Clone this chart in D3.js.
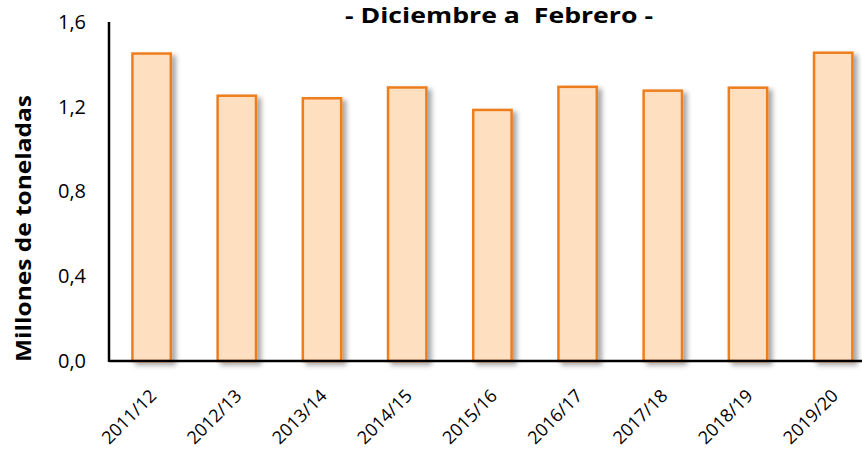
<!DOCTYPE html>
<html>
<head>
<meta charset="utf-8">
<script src="https://cdn.jsdelivr.net/npm/d3@7"></script>
<style>
  body { margin: 0; background: #fff; }
  text { font-family: "Open Sans", sans-serif; }
</style>
</head>
<body>
<div id="app"></div>
<script>
const campaigns = ["2011/12", "2012/13", "2013/14", "2014/15", "2015/16", "2016/17", "2017/18", "2018/19", "2019/20"];
const tonnes = [1.451, 1.252, 1.240, 1.291, 1.185, 1.294, 1.276, 1.290, 1.455];
const yTicks = [0, 0.4, 0.8, 1.2, 1.6];

const W = 862, H = 450;
const svg = d3.select("#app").append("svg")
    .attr("width", W)
    .attr("height", H);

// soft shadow like the spreadsheet bars
const defs = svg.append("defs");
const f = defs.append("filter").attr("id", "shadow")
    .attr("x", "-20%").attr("y", "-10%").attr("width", "150%").attr("height", "130%");
f.append("feDropShadow").attr("dx", 4).attr("dy", 3).attr("stdDeviation", 2.5)
    .attr("flood-color", "#000").attr("flood-opacity", 0.35);

const plotLeft = 109, plotTop = 22, plotBottom = 361;
const step = 85.2;

const x = d3.scaleBand()
    .domain(campaigns)
    .range([plotLeft, plotLeft + step * campaigns.length])
    .paddingInner(0.55)
    .paddingOuter(0.275);

const y = d3.scaleLinear([0, 1.6], [plotBottom, plotTop]);

// bars
svg.append("g").selectAll("rect")
    .data(campaigns)
    .join("rect")
    .attr("x", d => x(d))
    .attr("y", (d, i) => y(tonnes[i]))
    .attr("width", x.bandwidth())
    .attr("height", (d, i) => plotBottom - y(tonnes[i]))
    .attr("fill", "#fee0c1")
    .attr("stroke", "#ee7d1f")
    .attr("stroke-width", 2.5)
    .attr("filter", "url(#shadow)");

// y axis labels
const yAxis = d3.axisLeft(y).tickValues(yTicks).tickSize(0).tickPadding(23)
    .tickFormat(d => d3.format(".1f")(d).replace(".", ","));
const gy = svg.append("g").attr("transform", `translate(${plotLeft},0)`).call(yAxis);
gy.select(".domain").remove();
gy.selectAll("text").attr("font-size", 20).attr("fill", "#000")
    .style("font-family", "'Open Sans', sans-serif");

// x axis labels, rotated
const xAxis = d3.axisBottom(x).tickSize(0).tickPadding(0);
const gx = svg.append("g").attr("transform", `translate(0,${plotBottom})`).call(xAxis);
gx.select(".domain").remove();
gx.selectAll("text")
    .attr("font-size", 18)
    .attr("fill", "#000")
    .style("font-family", "'Open Sans', sans-serif")
    .attr("text-anchor", "end")
    .attr("dy", 0)
    .attr("transform", "translate(6,36) rotate(-45)");

// axis lines
svg.append("line").attr("x1", plotLeft).attr("x2", plotLeft).attr("y1", plotTop).attr("y2", plotBottom + 1)
    .attr("stroke", "#000").attr("stroke-width", 2.5);
svg.append("line").attr("x1", plotLeft).attr("x2", W).attr("y1", plotBottom).attr("y2", plotBottom)
    .attr("stroke", "#000").attr("stroke-width", 2.5);

// title
svg.append("text")
    .attr("x", 499).attr("y", 23)
    .attr("text-anchor", "middle")
    .attr("font-size", 21)
    .attr("font-weight", "bold")
    .attr("textLength", 308)
    .attr("lengthAdjust", "spacingAndGlyphs")
    .style("white-space", "pre")
    .text("- Diciembre a  Febrero -");

// y title
svg.append("text")
    .attr("transform", `translate(31,${(95 + 362) / 2}) rotate(-90)`)
    .attr("text-anchor", "middle")
    .attr("font-size", 21)
    .attr("font-weight", "bold")
    .attr("textLength", 267)
    .attr("lengthAdjust", "spacingAndGlyphs")
    .text("Millones de toneladas");
</script>
</body>
</html>
